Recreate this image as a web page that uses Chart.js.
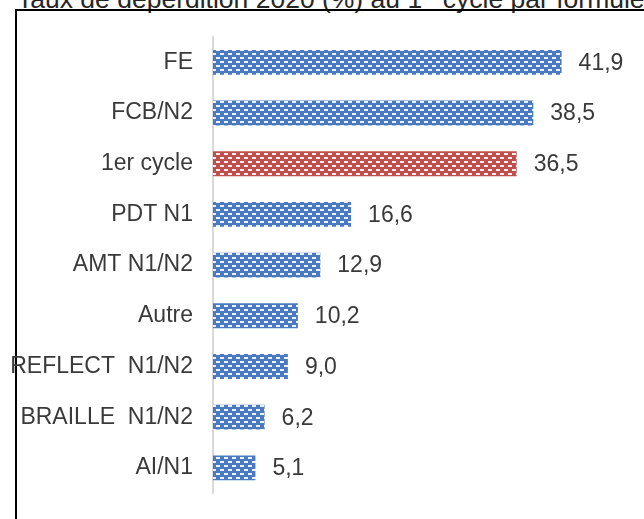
<!DOCTYPE html>
<html>
<head>
<meta charset="utf-8">
<script src="https://cdn.jsdelivr.net/npm/chart.js@4/dist/chart.umd.min.js"></script>
<style>
  body { margin: 0; background: #fff; overflow: hidden; }
  #wrap { position: relative; width: 644px; height: 519px; overflow: hidden; }
  #title { position: absolute; left: 17px; top: -14px; font: 26.5px "Liberation Sans", Arial, sans-serif; line-height: 26px; color: #262626; white-space: nowrap; }
  #title sup { font-size: 15px; line-height: 0; }
  #frame { position: absolute; left: 15px; top: 9px; width: 800px; height: 600px; border: 2px solid #000; }
  #bar-chart { position: absolute; left: 0; top: 0; }
</style>
</head>
<body>
<div id="wrap">
  <div id="title">Taux de déperdition 2020 (%) au 1<sup>er</sup> cycle par formule</div>
  <div id="frame"></div>
  <canvas id="bar-chart" width="644" height="519"></canvas>
</div>
<script>
// donnees
const categories = ['FE', 'FCB/N2', '1er cycle', 'PDT N1', 'AMT N1/N2', 'Autre', 'REFLECT  N1/N2', 'BRAILLE  N1/N2', 'AI/N1'];
const taux = [41.9, 38.5, 36.5, 16.6, 12.9, 10.2, 9.0, 6.2, 5.1];
const highlight = '1er cycle';

// motif en tirets blancs (comme le remplissage Excel)
function makePattern(color) {
  const c = document.createElement('canvas');
  c.width = 8;
  c.height = 8;
  const g = c.getContext('2d');
  g.fillStyle = color;
  g.fillRect(0, 0, 8, 8);
  g.fillStyle = 'rgba(255,255,255,0.9)';
  g.fillRect(0, 1, 4, 2);
  g.fillRect(4, 5, 4, 2);
  return g.createPattern(c, 'repeat');
}
const ctx = document.getElementById('bar-chart');
const blue = makePattern('#4a7bc0');
const red = makePattern('#c0504d');

const labelFont = { family: '"Liberation Sans", Arial, sans-serif', size: 23 };

// etiquettes de valeur a droite des barres
const valueLabels = {
  id: 'valueLabels',
  afterDatasetsDraw(chart) {
    const c = chart.ctx;
    const meta = chart.getDatasetMeta(0);
    c.save();
    c.font = labelFont.size + 'px ' + labelFont.family;
    c.fillStyle = '#3a3a3a';
    c.textAlign = 'left';
    c.textBaseline = 'middle';
    meta.data.forEach(function (bar, i) {
      c.fillText(taux[i].toFixed(1).replace('.', ','), bar.x + 17, bar.y + 1);
    });
    c.restore();
  }
};

new Chart(ctx, {
  type: 'bar',
  data: {
    labels: categories,
    datasets: [{
      data: taux,
      backgroundColor: categories.map(function (c) { return c === highlight ? red : blue; }),
      borderWidth: 0,
      barPercentage: 1,
      categoryPercentage: 0.49,
    }],
  },
  options: {
    responsive: false,
    animation: false,
    indexAxis: 'y',
    layout: { padding: { left: 0, right: 15, top: 37, bottom: 16 } },
    scales: {
      x: { display: false, min: 0, max: 50 },
      y: {
        afterFit: function (scale) { scale.width = 213; },
        grid: { display: false },
        border: { display: true, color: '#d9d9d9', width: 2 },
        ticks: { color: '#3a3a3a', font: labelFont, padding: 12 },
      },
    },
    plugins: {
      legend: { display: false },
      tooltip: { enabled: false },
    },
  },
  plugins: [valueLabels],
});
</script>
</body>
</html>
